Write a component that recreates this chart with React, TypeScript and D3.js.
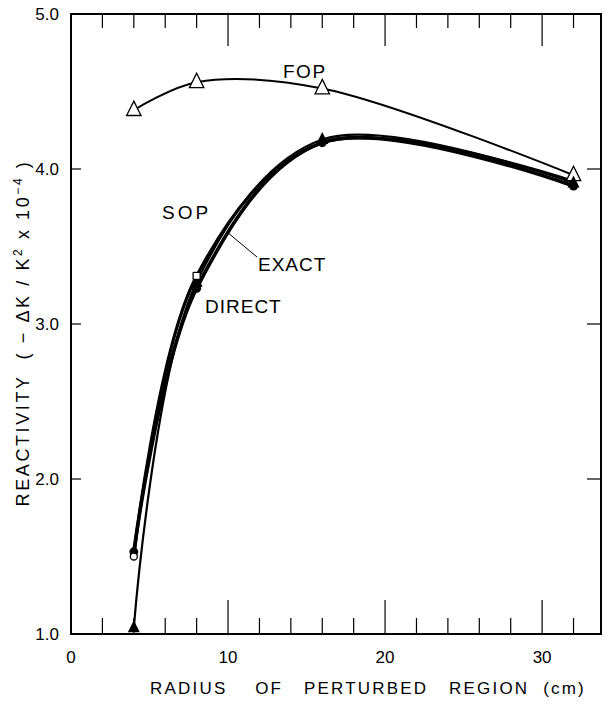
import React from "react";
import * as d3 from "d3";

// Radius of the perturbed region (cm)
const radii = [4, 8, 16, 32];
// Reactivity (-ΔK/K² x 10⁻⁴) for each method
const fopValues = [4.38, 4.56, 4.52, 3.96];
const sopValues = [1.5, 3.31, 4.17, 3.92];
const exactValues = [1.04, 3.27, 4.19, 3.91];
const directValues = [1.53, 3.23, 4.17, 3.89];

const xTicksMajor = [0, 10, 20, 30];
const xTicksMinor = [2, 4, 6, 8, 12, 14, 16, 18, 22, 24, 26, 28, 32];
const yTicks = [1, 2, 3, 4, 5];

const W = 605;
const H = 706;
const left = 71;
const right = 601;
const top = 14;
const bottom = 634;

export default function App() {
  const x = d3.scaleLinear().domain([0, 33.75]).range([left, right]);
  const y = d3.scaleLinear().domain([1, 5]).range([bottom, top]);
  const line = d3
    .line<number>()
    .x((_, i) => x(radii[i]))
    .y((v) => y(v))
    .curve(d3.curveCatmullRom.alpha(0.5));

  const font = "'Liberation Sans', Arial, sans-serif";
  const tri = (cx: number, cy: number, s: number) =>
    `M${cx},${cy - s * 0.75}L${cx + s * 0.6},${cy + s * 0.45}L${cx - s * 0.6},${cy + s * 0.45}Z`;

  return (
    <svg
      width={W}
      height={H}
      style={{ position: "absolute", left: 0, top: 0, background: "#fff" }}
      fontFamily={font}
    >
      <rect x={0} y={0} width={W} height={H} fill="#fff" />
      {/* frame */}
      <rect x={left} y={top} width={right - left} height={bottom - top} fill="none" stroke="#000" strokeWidth={2} />

      {/* x ticks, bottom and top */}
      {xTicksMinor.map((t) => (
        <g key={"xm" + t} stroke="#000" strokeWidth={1.2}>
          <line x1={x(t)} x2={x(t)} y1={bottom} y2={bottom - 16} />
          <line x1={x(t)} x2={x(t)} y1={top} y2={top + 14} />
        </g>
      ))}
      {xTicksMajor.map((t) => (
        <g key={"xM" + t}>
          {t > 0 && (
            <g stroke="#000" strokeWidth={1.2}>
              <line x1={x(t)} x2={x(t)} y1={bottom} y2={bottom - 34} />
              <line x1={x(t)} x2={x(t)} y1={top} y2={top + 32} />
            </g>
          )}
          <text x={x(t)} y={663} textAnchor="middle" fontSize={17}>
            {t}
          </text>
        </g>
      ))}

      {/* y ticks, left and right */}
      {yTicks.map((t) => (
        <g key={"y" + t}>
          {t > 1 && t < 5 && (
            <g stroke="#000" strokeWidth={1.2}>
              <line x1={left} x2={left + 10} y1={y(t)} y2={y(t)} />
              <line x1={right} x2={right - 14} y1={y(t)} y2={y(t)} />
            </g>
          )}
          <text x={59} y={y(t) + 6} textAnchor="end" fontSize={17}>
            {t.toFixed(1)}
          </text>
        </g>
      ))}

      {/* curves */}
      <path d={line(fopValues) ?? ""} fill="none" stroke="#000" strokeWidth={2} />
      <path d={line(sopValues) ?? ""} fill="none" stroke="#000" strokeWidth={3.2} />
      <path d={line(exactValues) ?? ""} fill="none" stroke="#000" strokeWidth={2.2} />
      <path d={line(directValues) ?? ""} fill="none" stroke="#000" strokeWidth={3.6} />

      {/* markers */}
      {radii.map((r, i) => (
        <path key={"fop" + r} d={tri(x(r), y(fopValues[i]), 12)} fill="#fff" stroke="#000" strokeWidth={1.3} />
      ))}
      {radii.map((r, i) => (
        <circle key={"dir" + r} cx={x(r)} cy={y(directValues[i])} r={4.5} fill="#000" />
      ))}
      {radii.map((r, i) => (
        <path key={"ex" + r} d={tri(x(r), y(exactValues[i]), 10)} fill="#000" />
      ))}
      {radii.slice(0, 2).map((r, i) => (
        <rect
          key={"sop" + r}
          x={x(r) - 3.5}
          y={y(sopValues[i]) - 3.5}
          width={7}
          height={7}
          rx={i === 0 ? 3.5 : 0.5}
          fill="#fff"
          stroke="#000"
          strokeWidth={1.3}
        />
      ))}

      {/* series labels */}
      <text x={283} y={78} fontSize={19} letterSpacing={1.5}>FOP</text>
      <text x={162} y={219} fontSize={19} letterSpacing={3}>SOP</text>
      <text x={258} y={271} fontSize={19} letterSpacing={1}>EXACT</text>
      <text x={205} y={313} fontSize={19} letterSpacing={1}>DIRECT</text>
      <line x1={227} y1={232} x2={257} y2={257} stroke="#000" strokeWidth={1} />

      {/* axis titles */}
      <text x={368} y={694} textAnchor="middle" fontSize={17} letterSpacing={2.2} xmlSpace="preserve">
        RADIUS    OF   PERTURBED   REGION  (cm)
      </text>
      <text
        transform="translate(29,333) rotate(-90)"
        textAnchor="middle"
        fontSize={18}
        letterSpacing={2.6}
        xmlSpace="preserve"
      >
        REACTIVITY  ( − ΔK / K<tspan dy={-7} fontSize={12}>2</tspan>
        <tspan dy={7}> x 10</tspan>
        <tspan dy={-7} fontSize={12}>−4</tspan>
        <tspan dy={7}> )</tspan>
      </text>
    </svg>
  );
}
